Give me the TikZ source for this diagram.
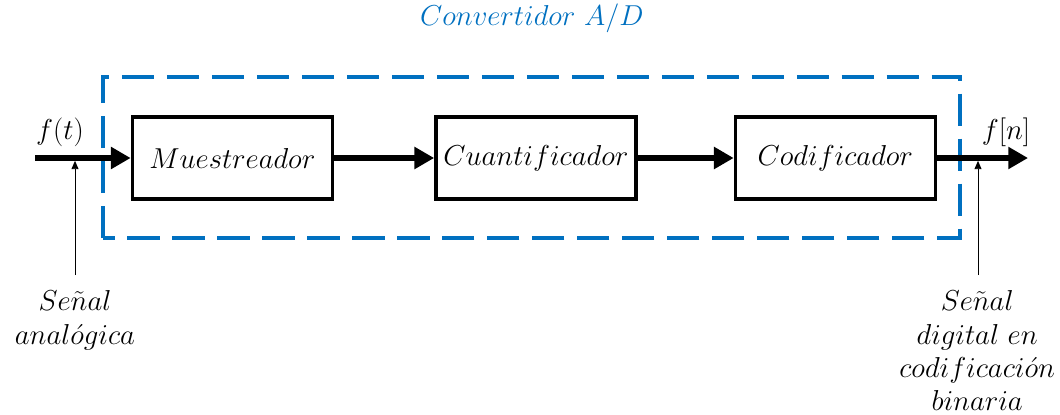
\RequirePackage{fix-cm}
\documentclass[tikz,border=0pt]{standalone}
\usepackage{amsmath}
\usepackage{tikz}
\usetikzlibrary{positioning,arrows.meta}
\usepackage{xcolor}
\definecolor{adblue}{RGB}{0,112,192}

\begin{document}
\begin{tikzpicture}[%
    font=\fontsize{20.5}{23.5}\selectfont,
    node distance=2.5cm,
    block/.style={%
      rectangle,
      minimum width=5cm,
      minimum height=2.05cm,
      line width=2.5pt,
      draw
    },
    signal/.style={%
      line width=4.3pt,
      -{Triangle[length=14pt,width=15pt]}
    },
    pointer/.style={%
      line width=0.7pt,
      -{Triangle[length=6pt,width=5pt]}
    }
  ]
    \useasboundingbox (0,0) rectangle (26.5,10.35);

    \node[block] (muest) at (5.81,6.4)             {$Muestreador$};
    \node[block] (cuant) [right=of muest]          {$Cuantificador$};
    \node[block] (codif) [node distance=2.4cm,right=of cuant] {$Codificador$};

    \coordinate (in)  at (0.875,6.4);
    \coordinate (out) at (25.7,6.4);

    \draw[adblue,line width=2.8pt,dash pattern=on 23pt off 9pt]
      (2.575,4.4) rectangle (24.0,8.425);
    \node[adblue] (title) at (13.3,9.9) {$Convertidor\ A/D$};

    \draw[signal] (in) -- (muest);
    \draw[signal] (muest) -- (cuant);
    \draw[signal] (cuant) -- (codif);
    \draw[signal] (codif) -- (out);

    \node (ft) at (1.5,7.05)  {$f(t)$};
    \node (fn) at (25.15,7.05) {$f[n]$};

    \coordinate (pa) at (1.875,6.33);
    \coordinate (pd) at (24.45,6.33);
    \node[anchor=north,align=center] (analog) at (1.875,3.2)
      {$Se\tilde{n}al$\\$anal\acute{o}gica$};
    \node[anchor=north,align=center] (digital) at (24.43,3.2)
      {$Se\tilde{n}al$\\$digital\ en$\\$codificaci\acute{o}n$\\$binaria$};

    \draw[pointer] (1.875,3.475) -- (pa);
    \draw[pointer] (24.45,3.475) -- (pd);
  \end{tikzpicture}
\end{document}
